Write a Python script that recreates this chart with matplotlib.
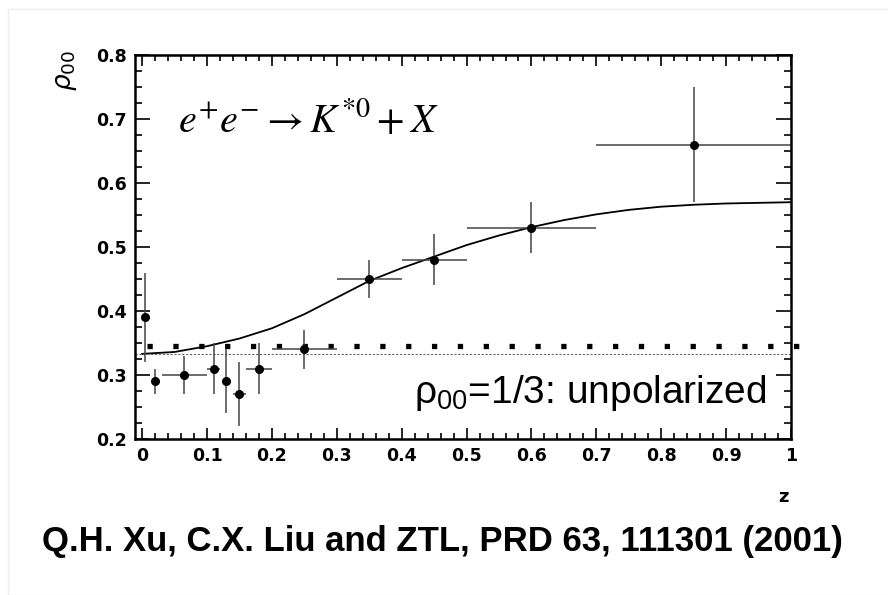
import numpy as np
import matplotlib
matplotlib.use('Agg')
import matplotlib.pyplot as plt
from matplotlib.ticker import MultipleLocator
from matplotlib.patches import Rectangle

# measured rho_00 vs z
z = [0.005, 0.02, 0.065, 0.11, 0.13, 0.15, 0.18, 0.25, 0.35, 0.45, 0.60, 0.85]
rho = [0.39, 0.29, 0.30, 0.31, 0.29, 0.27, 0.31, 0.34, 0.45, 0.48, 0.53, 0.66]
z_err = [0, 0, 0.035, 0.01, 0, 0.01, 0.02, 0.05, 0.05, 0.05, 0.10, 0.15]
rho_err = [0.07, 0.02, 0.03, 0.04, 0.05, 0.05, 0.04, 0.03, 0.03, 0.04, 0.04, 0.09]

# model curve
curve_z = [0, 0.05, 0.1, 0.15, 0.2, 0.25, 0.3, 0.35, 0.4, 0.45, 0.5,
           0.55, 0.6, 0.65, 0.7, 0.75, 0.8, 0.85, 0.9, 0.95, 1.0]
curve_rho = [0.333, 0.336, 0.345, 0.357, 0.373, 0.395, 0.421, 0.447, 0.467, 0.485, 0.503,
             0.518, 0.531, 0.542, 0.551, 0.558, 0.563, 0.566, 0.568, 0.569, 0.570]

unpol = 1 / 3
square_level = 0.345

fig = plt.figure(figsize=(8.88, 5.95), dpi=100)
fig.patches.append(Rectangle((8 / 888, 0), 1, 1 - 9 / 595, transform=fig.transFigure,
                             fill=False, edgecolor='#eeeeee', linewidth=1))
ax = fig.add_axes([135 / 888, 1 - 439 / 595, 656 / 888, 384 / 595])

ax.plot(curve_z, curve_rho, color='black', lw=1.3)
ax.axhline(unpol, color='#666666', lw=0.8, ls=(0, (2, 1.5)))
ax.plot([0.008, 1.012], [square_level, square_level], color='black', lw=3.8,
        ls=(0, (1, 3.9)), clip_on=False)
ax.errorbar(z, rho, xerr=z_err, yerr=rho_err, fmt='o', color='black', ms=5.5,
            ecolor='#444444', elinewidth=1.1, capsize=0)

ax.set_xlim(-0.011, 1.0)
ax.set_ylim(0.2, 0.8)
ax.xaxis.set_minor_locator(MultipleLocator(0.02))
ax.yaxis.set_minor_locator(MultipleLocator(0.025))
ax.set_xticks(np.arange(0, 1.01, 0.1))
ax.set_xticklabels(['0', '0.1', '0.2', '0.3', '0.4', '0.5', '0.6', '0.7', '0.8', '0.9', '1'])
ax.set_yticks(np.arange(0.2, 0.81, 0.1))
ax.set_yticklabels(['0.2', '0.3', '0.4', '0.5', '0.6', '0.7', '0.8'])
ax.tick_params(which='both', direction='in', top=True, right=True, width=1.2)
ax.tick_params(axis='x', which='major', length=8, pad=6)
ax.tick_params(axis='x', which='minor', length=4)
ax.tick_params(axis='y', which='major', length=11, pad=6)
ax.tick_params(axis='y', which='minor', length=5)
for lab in ax.get_xticklabels() + ax.get_yticklabels():
    lab.set_fontfamily('DejaVu Sans')
    lab.set_fontweight('bold')
    lab.set_fontsize(12.5)
for s in ax.spines.values():
    s.set_linewidth(1.8)

fig.text(66 / 888, 1 - 71 / 595, r'$\rho_{00}$', rotation=90, ha='center', va='center',
         fontsize=19, math_fontfamily='dejavusans')
fig.text(783 / 888, 1 - 497 / 595, 'z', ha='center', va='center', fontsize=13,
         fontweight='bold', family='DejaVu Sans')

ax.text(0.066, 0.80, r'$e^{+}e^{-}\rightarrow K^{*0}+X$', transform=ax.transAxes,
        fontsize=29, math_fontfamily='stix', va='baseline')
ax.text(0.963, 0.094, r'$\mathregular{\rho_{00}}$=1/3: unpolarized', transform=ax.transAxes,
        fontsize=28, family='Liberation Sans', ha='right', va='baseline')

fig.text(442 / 888, 1 - 541 / 595, 'Q.H. Xu, C.X. Liu and ZTL, PRD 63, 111301 (2001)',
         ha='center', va='center', fontsize=25, fontweight='bold',
         family=['Liberation Sans Narrow', 'Liberation Sans'])

fig.savefig('out.png', dpi=100)
